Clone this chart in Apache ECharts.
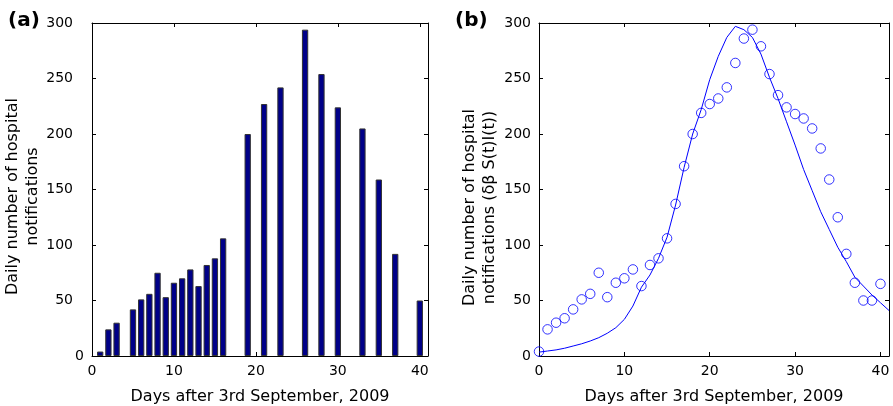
<!DOCTYPE html>
<html>
<head>
<meta charset="utf-8">
<script src="https://cdn.jsdelivr.net/npm/echarts@6/dist/echarts.min.js"></script>
<style>
  html, body { margin: 0; padding: 0; background: #fff; }
  #chart { width: 893px; height: 406px; }
</style>
</head>
<body>
<div id="chart"></div>
<script>
// panel (a): observed notifications, bars
var barDays   = [1, 2, 3, 5, 6, 7, 8, 9, 10, 11, 12, 13, 14, 15, 16, 19, 21, 23, 26, 28, 30, 33, 35, 37, 40];
var barCounts = [4, 24, 30, 42, 51, 56, 75, 53, 66, 70, 78, 63, 82, 88, 106, 200, 227, 242, 294, 254, 224, 205, 159, 92, 50];

// panel (b): data (circles) and model curve
var obsDays   = [0, 1, 2, 3, 4, 5, 6, 7, 8, 9, 10, 11, 12, 13, 14, 15, 16, 17, 18, 19, 20,
                 21, 22, 23, 24, 25, 26, 27, 28, 29, 30, 31, 32, 33, 34, 35, 36, 37, 38, 39, 40];
var obsCounts = [4, 24, 30, 34, 42, 51, 56, 75, 53, 66, 70, 78, 63, 82, 88, 106, 137, 171, 200, 219, 227,
                 232, 242, 264, 286, 294, 279, 254, 235, 224, 218, 214, 205, 187, 159, 125, 92, 66, 50, 50, 65];

var modelDays   = [0, 1, 2, 3, 4, 5, 6, 7, 8, 9, 10, 11, 12, 13, 14, 15, 16, 17, 18, 19, 20,
                   21, 22, 23, 24, 25, 26, 27, 28, 29, 30, 31, 32, 33, 34, 35, 36, 37, 38, 39, 40, 41];
var modelCounts = [3.5, 4.5, 5.5, 7, 9, 11, 13.5, 16.5, 20.5, 25.5, 33, 45, 62, 73, 88, 107, 136, 170, 200, 222, 249,
                   270, 287, 297, 294, 287, 272, 251, 232, 211, 190, 168, 149, 130, 114, 98, 85, 71, 63, 55, 48, 41];

var xTicks = [0, 10, 20, 30, 40];
var yTicks = [0, 50, 100, 150, 200, 250, 300];

var FONT = 'DejaVu Sans';
var xTitle = 'Days after 3rd September, 2009';

// small deep-merge helper (no jQuery in the sandbox)
function extend(deep, target) {
    var args = Array.prototype.slice.call(arguments, 2);
    args.forEach(function (src) {
        for (var k in src) {
            var v = src[k];
            if (deep && v && typeof v === 'object' && !Array.isArray(v)) {
                target[k] = extend(true, target[k] && typeof target[k] === 'object' ? target[k] : {}, v);
            } else {
                target[k] = v;
            }
        }
    });
    return target;
}

function zip(xs, ys) {
    var out = [];
    for (var i = 0; i < xs.length; i++) out.push([xs[i], ys[i]]);
    return out;
}

var lineStyle = { color: '#000', width: 1 };

function xAxes(g) {
    var base = {
        gridIndex: g, type: 'value', min: 0, max: 41, interval: 10,
        splitLine: { show: false },
        axisLine: { onZero: false, lineStyle: lineStyle },
        axisTick: { inside: true, length: 4, lineStyle: lineStyle }
    };
    var bottom = extend(true, {}, base, {
        position: 'bottom',
        axisLabel: {
            margin: 8, fontFamily: FONT, fontSize: 14, color: '#000',
            formatter: function (v) { return xTicks.indexOf(v) >= 0 ? String(v) : ''; }
        },
        name: xTitle, nameLocation: 'middle', nameGap: 33,
        nameTextStyle: { fontFamily: FONT, fontSize: 16, color: '#000' }
    });
    var top = extend(true, {}, base, { position: 'top', axisLabel: { show: false } });
    return [bottom, top];
}

function yAxes(g, name, gap, shift, padZero) {
    var base = {
        gridIndex: g, type: 'value', min: 0, max: 300, interval: 50,
        splitLine: { show: false },
        axisLine: { onZero: false, lineStyle: lineStyle },
        axisTick: { inside: true, length: 4, lineStyle: lineStyle }
    };
    var lab = { fontFamily: FONT, fontSize: 14, color: '#000' };
    var left = extend(true, {}, base, {
        position: 'left',
        axisLabel: {
            margin: 8, fontFamily: FONT, fontSize: 14, color: '#000',
            formatter: function (v) {
                if (yTicks.indexOf(v) < 0) return '';
                return (padZero && v !== 0) ? '{p|' + v + '}' : String(v);
            },
            rich: { p: extend(false, { padding: [0, 11, 0, 0] }, lab) }
        },
        name: name, nameLocation: 'middle', nameGap: gap,
        nameTextStyle: { fontFamily: FONT, fontSize: 16, lineHeight: 20, color: '#000', padding: [0, shift, 0, 0] }
    });
    var right = extend(true, {}, base, { position: 'right', axisLabel: { show: false } });
    return [left, right];
}

var chart = echarts.init(document.getElementById('chart'), null, { renderer: 'canvas' });

var option = {
    animation: false,
    backgroundColor: '#fff',
    title: [
        { text: '(a)', left: 8, top: 11, padding: 0, textStyle: { fontFamily: FONT, fontSize: 20, fontWeight: 'bold', color: '#000' } },
        { text: '(b)', left: 455, top: 11, padding: 0, textStyle: { fontFamily: FONT, fontSize: 20, fontWeight: 'bold', color: '#000' } }
    ],
    grid: [
        { left: 92, right: 465, top: 23, bottom: 50, containLabel: false, outerBoundsMode: 'none' },
        { left: 539, right: 4, top: 23, bottom: 50, containLabel: false, outerBoundsMode: 'none' }
    ],
    xAxis: xAxes(0).concat(xAxes(1)),
    yAxis: yAxes(0, 'Daily number of hospital\nnotifications', 44, 14, true)
        .concat(yAxes(1, 'Daily number of hospital\nnotifications (\u03b4\u03b2 S(t)I(t))', 39, 36, false)),
    series: [
        {
            type: 'bar', xAxisIndex: 0, yAxisIndex: 0,
            data: zip(barDays, barCounts),
            barWidth: 6.3,
            itemStyle: { color: '#000088', borderColor: '#333', borderWidth: 1 }
        },
        {
            type: 'line', xAxisIndex: 2, yAxisIndex: 2,
            data: zip(modelDays, modelCounts),
            showSymbol: false, symbol: 'none',
            lineStyle: { color: '#0000ff', width: 1 }
        },
        {
            type: 'scatter', xAxisIndex: 2, yAxisIndex: 2,
            data: zip(obsDays, obsCounts),
            symbol: 'circle', symbolSize: 9.5, clip: false,
            itemStyle: { color: 'rgba(0,0,0,0)', borderColor: '#0000ff', borderWidth: 1 }
        }
    ]
};

chart.setOption(option);
</script>
</body>
</html>
